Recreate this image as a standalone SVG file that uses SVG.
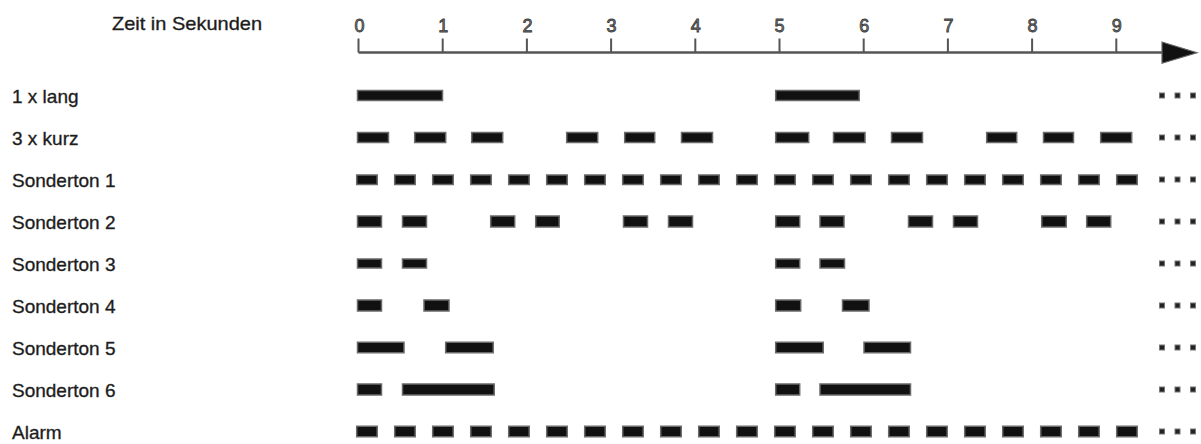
<svg xmlns="http://www.w3.org/2000/svg" width="1201" height="444" viewBox="0 0 1201 444">
<style>
  .lbl{font-family:"Liberation Sans",Arial,sans-serif;font-size:19px;fill:#1a1a1a;stroke:#2a2a2a;stroke-width:0.35;}
  .num{font-family:"Liberation Sans",Arial,sans-serif;font-size:18px;fill:#7a7a7a;stroke:#3a3a3a;stroke-width:0.8;text-anchor:middle;}
  .bar{fill:#111;stroke:#6a6a6a;stroke-width:1.5;}
  .dot{fill:#222;stroke:#777;stroke-width:1;}
  .tick{stroke:#555;stroke-width:2;}
</style>
<defs>
  <g id="dots"><rect class="dot" x="1159.5" y="-2.5" width="5" height="5"/><rect class="dot" x="1175" y="-2.5" width="5" height="5"/><rect class="dot" x="1190.5" y="-2.5" width="5" height="5"/></g>
</defs>
<g id="axis">
  <text class="lbl" x="112" y="30" textLength="150" lengthAdjust="spacingAndGlyphs">Zeit in Sekunden</text>
  <line x1="358.5" y1="52.5" x2="1165" y2="52.5" stroke="#555" stroke-width="2.5"/>
  <line class="tick" x1="358.5" y1="38.5" x2="358.5" y2="52.5"/>
  <line class="tick" x1="442.7" y1="38.5" x2="442.7" y2="52.5"/>
  <line class="tick" x1="526.9" y1="38.5" x2="526.9" y2="52.5"/>
  <line class="tick" x1="611.1" y1="38.5" x2="611.1" y2="52.5"/>
  <line class="tick" x1="695.3" y1="38.5" x2="695.3" y2="52.5"/>
  <line class="tick" x1="779.5" y1="38.5" x2="779.5" y2="52.5"/>
  <line class="tick" x1="863.7" y1="38.5" x2="863.7" y2="52.5"/>
  <line class="tick" x1="947.9" y1="38.5" x2="947.9" y2="52.5"/>
  <line class="tick" x1="1032.1" y1="38.5" x2="1032.1" y2="52.5"/>
  <line class="tick" x1="1116.3" y1="38.5" x2="1116.3" y2="52.5"/>
  <polygon points="1162,42 1197,52.7 1162,63.3" fill="#111" stroke="#666" stroke-width="1.2"/>
  <text class="num" x="359.5" y="32">0</text>
  <text class="num" x="443.2" y="32">1</text>
  <text class="num" x="527.4" y="32">2</text>
  <text class="num" x="611.6" y="32">3</text>
  <text class="num" x="695.8" y="32">4</text>
  <text class="num" x="779.5" y="32">5</text>
  <text class="num" x="864.2" y="32">6</text>
  <text class="num" x="948.4" y="32">7</text>
  <text class="num" x="1032.6" y="32">8</text>
  <text class="num" x="1116.8" y="32">9</text>
</g>
<g id="row-1xlang">
  <text class="lbl" x="12" y="102.5">1 x lang</text>
  <rect class="bar" x="357.5" y="90.5" width="85" height="10"/>
  <rect class="bar" x="775.7" y="90.5" width="83.5" height="10"/>
  <use href="#dots" y="95.5"/>
</g>
<g id="row-3xkurz">
  <text class="lbl" x="12" y="144.5">3 x kurz</text>
  <rect class="bar" x="357.5" y="132.5" width="31" height="10"/>
  <rect class="bar" x="414.7" y="132.5" width="31" height="10"/>
  <rect class="bar" x="471.7" y="132.5" width="31" height="10"/>
  <rect class="bar" x="566.7" y="132.5" width="31" height="10"/>
  <rect class="bar" x="624.7" y="132.5" width="30" height="10"/>
  <rect class="bar" x="681.5" y="132.5" width="31" height="10"/>
  <rect class="bar" x="775.7" y="132.5" width="33" height="10"/>
  <rect class="bar" x="833.5" y="132.5" width="31.5" height="10"/>
  <rect class="bar" x="891.5" y="132.5" width="31" height="10"/>
  <rect class="bar" x="986.7" y="132.5" width="30" height="10"/>
  <rect class="bar" x="1043.5" y="132.5" width="30" height="10"/>
  <rect class="bar" x="1100.7" y="132.5" width="31" height="10"/>
  <use href="#dots" y="137.5"/>
</g>
<g id="row-sonderton1">
  <text class="lbl" x="12" y="186.5">Sonderton 1</text>
  <rect class="bar" x="356.7" y="175" width="20.5" height="9.5"/>
  <rect class="bar" x="394.7" y="175" width="20.5" height="9.5"/>
  <rect class="bar" x="432.7" y="175" width="20.5" height="9.5"/>
  <rect class="bar" x="470.7" y="175" width="20.5" height="9.5"/>
  <rect class="bar" x="508.7" y="175" width="20.5" height="9.5"/>
  <rect class="bar" x="546.7" y="175" width="20.5" height="9.5"/>
  <rect class="bar" x="584.7" y="175" width="20.5" height="9.5"/>
  <rect class="bar" x="622.7" y="175" width="20.5" height="9.5"/>
  <rect class="bar" x="660.7" y="175" width="20.5" height="9.5"/>
  <rect class="bar" x="698.7" y="175" width="20.5" height="9.5"/>
  <rect class="bar" x="736.7" y="175" width="20.5" height="9.5"/>
  <rect class="bar" x="774.7" y="175" width="20.5" height="9.5"/>
  <rect class="bar" x="812.7" y="175" width="20.5" height="9.5"/>
  <rect class="bar" x="850.7" y="175" width="20.5" height="9.5"/>
  <rect class="bar" x="888.7" y="175" width="20.5" height="9.5"/>
  <rect class="bar" x="926.7" y="175" width="20.5" height="9.5"/>
  <rect class="bar" x="964.7" y="175" width="20.5" height="9.5"/>
  <rect class="bar" x="1002.7" y="175" width="20.5" height="9.5"/>
  <rect class="bar" x="1040.7" y="175" width="20.5" height="9.5"/>
  <rect class="bar" x="1078.7" y="175" width="20.5" height="9.5"/>
  <rect class="bar" x="1116.7" y="175" width="20.5" height="9.5"/>
  <use href="#dots" y="179.5"/>
</g>
<g id="row-sonderton2">
  <text class="lbl" x="12" y="228.5">Sonderton 2</text>
  <rect class="bar" x="357.5" y="216" width="24" height="11"/>
  <rect class="bar" x="402.5" y="216" width="24" height="11"/>
  <rect class="bar" x="490.7" y="216" width="24" height="11"/>
  <rect class="bar" x="535.7" y="216" width="23.5" height="11"/>
  <rect class="bar" x="623.5" y="216" width="24" height="11"/>
  <rect class="bar" x="668.5" y="216" width="24" height="11"/>
  <rect class="bar" x="775.7" y="216" width="24" height="11"/>
  <rect class="bar" x="820" y="216" width="24" height="11"/>
  <rect class="bar" x="908.5" y="216" width="24" height="11"/>
  <rect class="bar" x="953.5" y="216" width="24" height="11"/>
  <rect class="bar" x="1041.7" y="216" width="24.5" height="11"/>
  <rect class="bar" x="1086.7" y="216" width="24" height="11"/>
  <use href="#dots" y="221.5"/>
</g>
<g id="row-sonderton3">
  <text class="lbl" x="12" y="270.5">Sonderton 3</text>
  <rect class="bar" x="357.5" y="259" width="24" height="9"/>
  <rect class="bar" x="402.5" y="259" width="24" height="9"/>
  <rect class="bar" x="775.7" y="259" width="24" height="9"/>
  <rect class="bar" x="820" y="259" width="24.5" height="9"/>
  <use href="#dots" y="263.5"/>
</g>
<g id="row-sonderton4">
  <text class="lbl" x="12" y="312.5">Sonderton 4</text>
  <rect class="bar" x="357.5" y="300" width="24" height="11"/>
  <rect class="bar" x="424" y="300" width="25" height="11"/>
  <rect class="bar" x="775.7" y="300" width="25" height="11"/>
  <rect class="bar" x="842.5" y="300" width="26.5" height="11"/>
  <use href="#dots" y="305.5"/>
</g>
<g id="row-sonderton5">
  <text class="lbl" x="12" y="354.5">Sonderton 5</text>
  <rect class="bar" x="357.5" y="342.25" width="46.5" height="10.5"/>
  <rect class="bar" x="445.7" y="342.25" width="47.5" height="10.5"/>
  <rect class="bar" x="775.7" y="342.25" width="47.5" height="10.5"/>
  <rect class="bar" x="864" y="342.25" width="46.5" height="10.5"/>
  <use href="#dots" y="347.5"/>
</g>
<g id="row-sonderton6">
  <text class="lbl" x="12" y="396.5">Sonderton 6</text>
  <rect class="bar" x="357.5" y="384" width="24" height="11"/>
  <rect class="bar" x="402.5" y="384" width="91.7" height="11"/>
  <rect class="bar" x="775.7" y="384" width="24" height="11"/>
  <rect class="bar" x="820" y="384" width="90.5" height="11"/>
  <use href="#dots" y="389.5"/>
</g>
<g id="row-alarm">
  <text class="lbl" x="12" y="438.5">Alarm</text>
  <rect class="bar" x="356.7" y="426.25" width="20.5" height="10.5"/>
  <rect class="bar" x="394.7" y="426.25" width="20.5" height="10.5"/>
  <rect class="bar" x="432.7" y="426.25" width="20.5" height="10.5"/>
  <rect class="bar" x="470.7" y="426.25" width="20.5" height="10.5"/>
  <rect class="bar" x="508.7" y="426.25" width="20.5" height="10.5"/>
  <rect class="bar" x="546.7" y="426.25" width="20.5" height="10.5"/>
  <rect class="bar" x="584.7" y="426.25" width="20.5" height="10.5"/>
  <rect class="bar" x="622.7" y="426.25" width="20.5" height="10.5"/>
  <rect class="bar" x="660.7" y="426.25" width="20.5" height="10.5"/>
  <rect class="bar" x="698.7" y="426.25" width="20.5" height="10.5"/>
  <rect class="bar" x="736.7" y="426.25" width="20.5" height="10.5"/>
  <rect class="bar" x="774.7" y="426.25" width="20.5" height="10.5"/>
  <rect class="bar" x="812.7" y="426.25" width="20.5" height="10.5"/>
  <rect class="bar" x="850.7" y="426.25" width="20.5" height="10.5"/>
  <rect class="bar" x="888.7" y="426.25" width="20.5" height="10.5"/>
  <rect class="bar" x="926.7" y="426.25" width="20.5" height="10.5"/>
  <rect class="bar" x="964.7" y="426.25" width="20.5" height="10.5"/>
  <rect class="bar" x="1002.7" y="426.25" width="20.5" height="10.5"/>
  <rect class="bar" x="1040.7" y="426.25" width="20.5" height="10.5"/>
  <rect class="bar" x="1078.7" y="426.25" width="20.5" height="10.5"/>
  <rect class="bar" x="1116.7" y="426.25" width="20.5" height="10.5"/>
  <use href="#dots" y="431.5"/>
</g>
</svg>
